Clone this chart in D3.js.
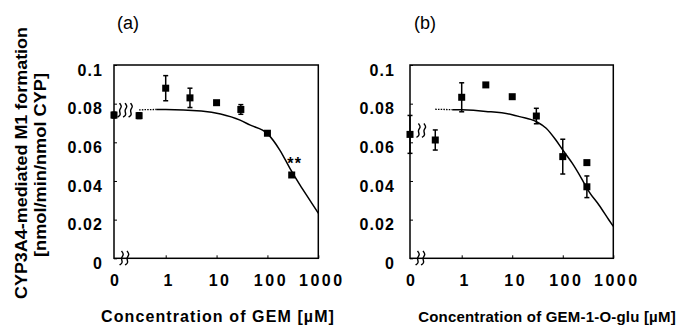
<!DOCTYPE html>
<html>
<head>
<meta charset="utf-8">
<script src="https://cdn.jsdelivr.net/npm/d3@7"></script>
<style>
  body { margin: 0; background: #ffffff; }
  text { font-family: "Liberation Sans", Arial, sans-serif; fill: #000; }
  .bold { font-weight: bold; font-size: 16px; letter-spacing: 1.1px; }
</style>
</head>
<body>
<svg id="chart"></svg>
<script>
// Axis tick labels
const yTicks = [0, 0.02, 0.04, 0.06, 0.08, 0.1];
const xTicks = [1, 10, 100, 1000];

// Panel (a) GEM: measured points
const concA = [0, 0.3, 1, 3, 10, 30, 100, 300];
const valA = [0.0741, 0.0738, 0.0880, 0.0830, 0.0805, 0.0770, 0.0647, 0.0431];
const errA = [0.0015, 0.0015, 0.0065, 0.0050, 0.0008, 0.0025, 0.0008, 0.0008];
// Panel (a) fitted curve
const curveConcA = [0.3, 0.65, 1, 5, 12, 29, 45, 100, 175, 275, 435, 685, 1000];
const curveValA = [0.0768, 0.0770, 0.0770, 0.0762, 0.0747, 0.0715, 0.0690, 0.0645, 0.0560, 0.0467, 0.0380, 0.0300, 0.0233];

// Panel (b) GEM-1-O-glu: measured points
const concB = [0, 0.3, 1, 3, 10, 30, 100, 300, 300];
const valB = [0.0641, 0.0612, 0.0833, 0.0897, 0.0836, 0.0736, 0.0526, 0.0495, 0.0370];
const errB = [0.0098, 0.0052, 0.0075, 0, 0, 0.0040, 0.0090, 0, 0.0056];
// Panel (b) fitted curve
const curveConcB = [0.3, 0.65, 1, 3, 10, 14, 30, 47, 73, 100, 155, 245, 330, 520, 820, 1000];
const curveValB = [0.0771, 0.0769, 0.0768, 0.0760, 0.0743, 0.0733, 0.0707, 0.0673, 0.0612, 0.0560, 0.0491, 0.0405, 0.0345, 0.0276, 0.0198, 0.0165];

const width = 680, height = 327;
const svg = d3.select('#chart').attr('width', width).attr('height', height);

const panels = [
    { label: '(a)', labelX: 128, left: 114, right: 318.3, labelPad: 11,
      title: 'Concentration of GEM [\u00b5M]', titleX: 218, titleSize: 16, titleLs: 1.1,
      conc: concA, val: valA, err: errA, cConc: curveConcA, cVal: curveValA,
      breakY: 0.0765, breakN: 3, stars: true },
    { label: '(b)', labelX: 425, left: 410, right: 613.3, labelPad: 15,
      title: 'Concentration of GEM-1-O-glu [\u00b5M]', titleX: 547, titleSize: 15, titleLs: 0.2,
      conc: concB, val: valB, err: errB, cConc: curveConcB, cVal: curveValB,
      breakY: 0.066, breakN: 2, stars: false }
];

// little wavy "≀" mark used for the axis breaks
const squiggle = d3.line().curve(d3.curveBasis);
const squigglePts = [[-2, -7], [1.5, -4], [-1.5, 0], [2, 4], [-1, 7]];

function drawBreak(g, cx, cy) {
    g.append('path')
        .attr('d', squiggle(squigglePts))
        .attr('transform', `translate(${cx},${cy}) rotate(12)`)
        .attr('fill', 'none')
        .attr('stroke', '#000')
        .attr('stroke-width', 1.4);
}

function drawPanel(p) {
    const g = svg.append('g');

    const x = d3.scaleLog().domain([1, 1000]).range([p.left + 51.7, p.right]);
    const y = d3.scaleLinear().domain([0, 0.1]).range([258.3, 65]);
    const xPos = (c) => c === 0 ? p.left : x(c);

    // frame
    g.append('rect')
        .attr('x', p.left)
        .attr('y', y(0.1))
        .attr('width', p.right - p.left)
        .attr('height', y(0) - y(0.1))
        .attr('fill', 'none')
        .attr('stroke', '#000')
        .attr('stroke-width', 1.5);

    // y axis
    const yAxis = d3.axisLeft(y)
        .tickValues(yTicks)
        .tickFormat((d) => d === 0 ? '0' : d3.format('.2~f')(d))
        .tickSize(-3)
        .tickPadding(p.labelPad);
    const ya = g.append('g')
        .attr('transform', `translate(${p.left},0)`)
        .call(yAxis);
    ya.select('.domain').remove();
    ya.selectAll('text').attr('class', 'bold').attr('font-family', null).attr('font-size', null).attr('y', 5);

    // x axis
    const xAxis = d3.axisBottom(x)
        .tickValues(xTicks)
        .tickFormat(d3.format('d'))
        .tickSize(-3)
        .tickPadding(16);
    const xa = g.append('g')
        .attr('transform', `translate(0,${y(0)})`)
        .call(xAxis);
    xa.select('.domain').remove();
    xa.selectAll('text').attr('class', 'bold').attr('font-family', null).attr('font-size', null)
        .style('letter-spacing', '2.5px').attr('dx', 3);
    xa.append('text')
        .attr('class', 'bold')
        .attr('x', p.left + 1)
        .attr('y', 16)
        .attr('dy', '0.71em')
        .attr('text-anchor', 'middle')
        .text('0');

    // break marks
    const midX = (xPos(0) + xPos(0.3)) / 2;
    for (let i = 0; i < p.breakN; i++) {
        drawBreak(g, midX + (i - (p.breakN - 1) / 2) * 5.5 - 1, y(p.breakY));
    }
    for (let i = 0; i < 2; i++) {
        drawBreak(g, p.left + 8 + i * 5.5, y(0));
    }

    // fitted curve: dotted start, solid remainder
    const pts = p.cConc.map((c, i) => [x(c), y(p.cVal[i])]);
    const line = d3.line().curve(d3.curveMonotoneX);
    g.append('path')
        .attr('d', line(pts.slice(0, 2)))
        .attr('fill', 'none')
        .attr('stroke', '#000')
        .attr('stroke-width', 1.3)
        .attr('stroke-dasharray', '1.5,1.2');
    g.append('path')
        .attr('d', line(pts.slice(1)))
        .attr('fill', 'none')
        .attr('stroke', '#000')
        .attr('stroke-width', 1.5);

    // error bars
    const data = p.conc.map((c, i) => ({ c: c, v: p.val[i], e: p.err[i] }));
    const bars = g.selectAll('.err')
        .data(data.filter((d) => d.e > 0))
        .enter()
        .append('g')
        .attr('class', 'err');
    bars.append('line')
        .attr('x1', (d) => xPos(d.c)).attr('x2', (d) => xPos(d.c))
        .attr('y1', (d) => y(d.v - d.e)).attr('y2', (d) => y(d.v + d.e))
        .attr('stroke', '#000').attr('stroke-width', 1.5);
    [-1, 1].forEach((s) => {
        bars.append('line')
            .attr('x1', (d) => xPos(d.c) - 2.5).attr('x2', (d) => xPos(d.c) + 2.5)
            .attr('y1', (d) => y(d.v + s * d.e)).attr('y2', (d) => y(d.v + s * d.e))
            .attr('stroke', '#000').attr('stroke-width', 1.5);
    });

    // markers
    g.selectAll('.pt')
        .data(data)
        .enter()
        .append('rect')
        .attr('class', 'pt')
        .attr('x', (d) => xPos(d.c) - 3.5)
        .attr('y', (d) => y(d.v) - 3.5)
        .attr('width', 7)
        .attr('height', 7)
        .attr('fill', '#000');

    if (p.stars) {
        g.append('text')
            .attr('x', x(300) + 3)
            .attr('y', y(0.0462))
            .attr('text-anchor', 'middle')
            .attr('class', 'bold')
            .text('**');
    }

    // panel label
    g.append('text')
        .attr('x', p.labelX)
        .attr('y', 29)
        .attr('text-anchor', 'middle')
        .style('font-size', '18px')
        .text(p.label);

    // x title
    g.append('text')
        .attr('class', 'bold')
        .style('font-size', p.titleSize + 'px')
        .style('letter-spacing', p.titleLs + 'px')
        .attr('x', p.titleX)
        .attr('y', 322)
        .attr('text-anchor', 'middle')
        .text(p.title);
}

panels.forEach(drawPanel);

// y title (two lines)
svg.append('text')
    .attr('class', 'bold')
    .style('letter-spacing', '0px')
    .attr('transform', 'translate(27,163) rotate(-90)')
    .attr('text-anchor', 'middle')
    .attr('textLength', 272)
    .attr('lengthAdjust', 'spacingAndGlyphs')
    .text('CYP3A4-mediated M1 formation');
svg.append('text')
    .attr('class', 'bold')
    .style('letter-spacing', '0px')
    .attr('transform', 'translate(46,165) rotate(-90)')
    .attr('text-anchor', 'middle')
    .attr('textLength', 184)
    .attr('lengthAdjust', 'spacingAndGlyphs')
    .text('[nmol/min/nmol CYP]');
</script>
</body>
</html>
